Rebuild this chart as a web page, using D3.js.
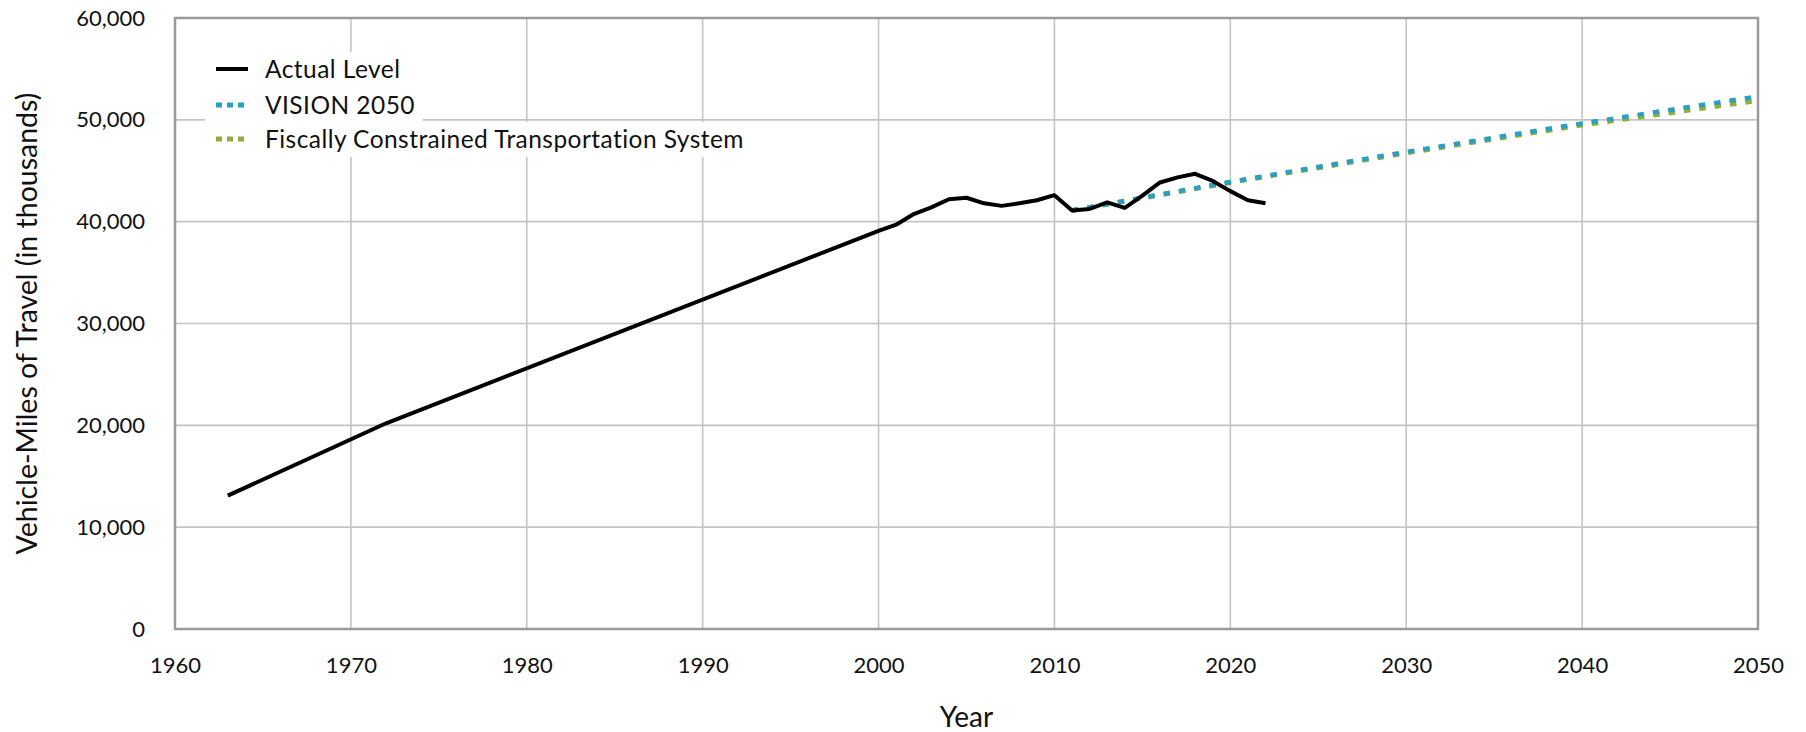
<!DOCTYPE html>
<html><head><meta charset="utf-8">
<script src="https://cdn.jsdelivr.net/npm/d3@7"></script>
<style>
html,body{margin:0;padding:0;background:#fff;}
text{font-family:Lato,"Open Sans",sans-serif;fill:#111;}
</style></head>
<body><svg id="c" width="1806" height="732"></svg>
<script>
// ---- data ----
const actualYears = [1963,1972,2000,2001,2002,2003,2004,2005,2006,2007,2008,2009,2010,2011,2012,2013,2014,2015,2016,2017,2018,2019,2020,2021,2022];
const actualValues = [13100,20200,39100,39700,40750,41400,42200,42350,41800,41550,41800,42100,42600,41100,41250,41900,41350,42550,43850,44350,44700,44000,43000,42100,41800];
const projYears = [2011,2020,2030,2040,2050];
const visionValues = [41100,43900,46850,49650,52300];
const fiscalValues = [41100,43850,46750,49500,51900];
const xTicks = [1960,1970,1980,1990,2000,2010,2020,2030,2040,2050];
const yTicks = [0,10000,20000,30000,40000,50000,60000];
const legendLabels = ["Actual Level","VISION 2050","Fiscally Constrained Transportation System"];
const yTitle = "Vehicle-Miles of Travel (in thousands)";
const xTitle = "Year";

const svg = d3.select("#c");
const m = {l:175, r:1758, t:18, b:629};
const x = d3.scaleLinear().domain([1960,2050]).range([m.l,m.r]);
const y = d3.scaleLinear().domain([0,60000]).range([m.b,m.t]);

// grid
svg.append("g").selectAll("line").data(xTicks).join("line")
  .attr("x1",d=>x(d)).attr("x2",d=>x(d)).attr("y1",m.t).attr("y2",m.b)
  .attr("stroke","#c4c4c4").attr("stroke-width",1.6);
svg.append("g").selectAll("line").data(yTicks).join("line")
  .attr("x1",m.l).attr("x2",m.r).attr("y1",d=>y(d)).attr("y2",d=>y(d))
  .attr("stroke","#c4c4c4").attr("stroke-width",1.6);
svg.append("rect").attr("x",m.l).attr("y",m.t).attr("width",m.r-m.l).attr("height",m.b-m.t)
  .attr("fill","none").attr("stroke","#9a9a9a").attr("stroke-width",2.5);

// axes
const fmt = d3.format(",");
const ya = svg.append("g").attr("transform",`translate(${m.l},0)`)
  .call(d3.axisLeft(y).tickValues(yTicks).tickFormat(d=>fmt(d)).tickSize(0).tickPadding(30));
const xa = svg.append("g").attr("transform",`translate(0,${m.b})`)
  .call(d3.axisBottom(x).tickValues(xTicks).tickFormat(d=>d).tickSize(0).tickPadding(28));
[ya,xa].forEach(a=>{a.select(".domain").remove(); a.selectAll("text").attr("font-size",22).attr("font-family","Lato").attr("fill","#111");});

svg.append("text").attr("x",(m.l+m.r)/2).attr("y",727).attr("text-anchor","middle")
  .attr("font-size",28).text(xTitle);
svg.append("text").attr("transform",`translate(37,${(m.t+m.b)/2}) rotate(-90)`)
  .attr("text-anchor","middle").attr("font-size",28.5).text(yTitle);

// lines
const line = d3.line().x(d=>x(d[0])).y(d=>y(d[1]));
const fiscal = projYears.map((d,i)=>[d,fiscalValues[i]]);
const vision = projYears.map((d,i)=>[d,visionValues[i]]);
const actual = actualYears.map((d,i)=>[d,actualValues[i]]);
svg.append("path").attr("d",line(fiscal)).attr("fill","none").attr("stroke","#8fae3c")
  .attr("stroke-width",5).attr("stroke-dasharray","6.5,9");
svg.append("path").attr("d",line(vision)).attr("fill","none").attr("stroke","#2a9fc4")
  .attr("stroke-width",4.5).attr("stroke-dasharray","6.5,9");
svg.append("path").attr("d",line(actual)).attr("fill","none").attr("stroke","#000")
  .attr("stroke-width",4).attr("stroke-linejoin","round");

// legend
const lg = svg.append("g");
const lx = 205, rowY=[69,105,139], textX=265;
const bg = lg.append("g");
const styles = [{c:"#000",d:null,w:4},{c:"#2a9fc4",d:"6,5",w:5},{c:"#8fae3c",d:"6,5",w:5}];
const texts = legendLabels.map((t,i)=>lg.append("text").attr("x",textX).attr("y",rowY[i]).attr("dy","0.35em")
  .attr("font-size",24.5).attr("letter-spacing",0.45).text(t));
const wA = Math.max(texts[0].node().getComputedTextLength(),texts[1].node().getComputedTextLength());
const wC = texts[2].node().getComputedTextLength();
bg.append("rect").attr("x",lx).attr("y",52).attr("width",textX+wA+8-lx).attr("height",70).attr("fill","#fff");
bg.append("rect").attr("x",lx).attr("y",122).attr("width",textX+wC+8-lx).attr("height",35).attr("fill","#fff");
styles.forEach((s,i)=>{
  lg.append("line").attr("x1",216).attr("x2",248).attr("y1",rowY[i]).attr("y2",rowY[i])
    .attr("stroke",s.c).attr("stroke-width",s.w).attr("stroke-dasharray",s.d);
});
</script></body></html>
